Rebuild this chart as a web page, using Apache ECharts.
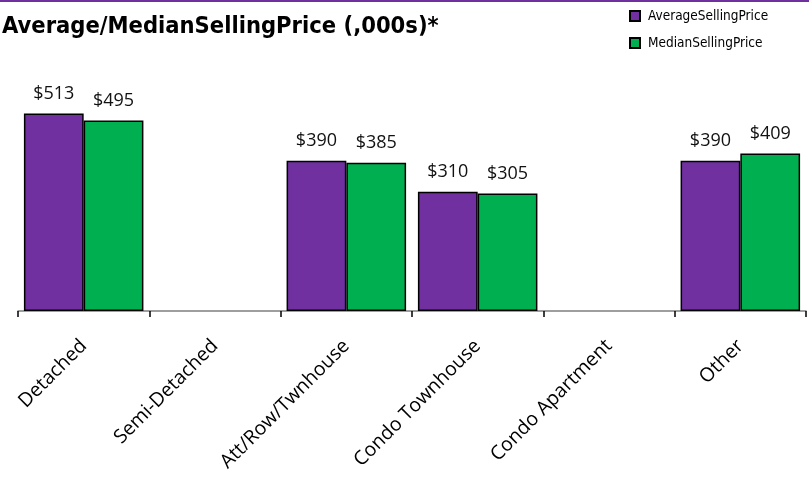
<!DOCTYPE html>
<html>
<head>
<meta charset="utf-8">
<script src="https://cdn.jsdelivr.net/npm/echarts@6/dist/echarts.min.js"></script>
<style>
  html, body { margin: 0; padding: 0; background: #fff; }
  #chart { width: 809px; height: 487px; border-top: 2px solid #7030A0; box-sizing: border-box; }
</style>
</head>
<body>
<div id="chart"></div>
<script>
// Property types on the category axis
const categories = ['Detached', 'Semi-Detached', 'Att/Row/Twnhouse', 'Condo Townhouse', 'Condo Apartment', 'Other'];
// Prices in thousands of dollars; null where no sales were recorded
const averagePrice = [513, null, 390, 310, null, 390];
const medianPrice = [495, null, 385, 305, null, 409];
const seriesNames = ['AverageSellingPrice', 'MedianSellingPrice'];

const narrowFont = "'DejaVu Sans Condensed', 'Liberation Sans Narrow', 'Roboto Condensed', Roboto, sans-serif";

const chart = echarts.init(document.getElementById('chart'), null, { renderer: 'canvas' });

const labelStyle = {
  show: true,
  position: 'top',
  distance: 11,
  fontFamily: 'Open Sans',
  fontSize: 18,
  color: '#111',
  formatter: p => '$' + p.value
};

chart.setOption({
  animation: false,
  title: {
    text: 'Average/MedianSellingPrice (,000s)*',
    left: -3,
    top: 8,
    textStyle: {
      fontFamily: narrowFont,
      fontWeight: 'bold',
      fontSize: 23.5,
      color: '#000'
    }
  },
  legend: {
    data: seriesNames,
    orient: 'vertical',
    left: 624,
    top: 2,
    itemWidth: 10,
    itemHeight: 10,
    itemGap: 13,
    icon: 'rect',
    textStyle: {
      fontFamily: narrowFont,
      fontSize: 13.5,
      color: '#000',
      padding: [0, 0, 0, 3]
    }
  },
  grid: { left: 18, right: 3, top: 78, bottom: 176, containLabel: false },
  xAxis: {
    type: 'category',
    data: categories,
    axisLine: { lineStyle: { color: '#7f7f7f', width: 1.5 } },
    axisTick: { show: true, length: 6, lineStyle: { color: '#000', width: 1.5 } },
    axisLabel: {
      rotate: 45,
      margin: 32,
      fontFamily: 'Open Sans',
      fontSize: 19.5,
      color: '#000',
      interval: 0
    }
  },
  yAxis: {
    type: 'value',
    min: 0,
    max: 600,
    show: false,
    splitLine: { show: false }
  },
  series: [
    {
      name: seriesNames[0],
      type: 'bar',
      data: averagePrice,
      barGap: '0%',
      barCategoryGap: '9%',
      itemStyle: { color: '#7030A0', borderColor: '#000', borderWidth: 1.5 },
      label: labelStyle
    },
    {
      name: seriesNames[1],
      type: 'bar',
      data: medianPrice,
      itemStyle: { color: '#00B050', borderColor: '#000', borderWidth: 1.5 },
      label: labelStyle
    }
  ]
});
</script>
</body>
</html>
